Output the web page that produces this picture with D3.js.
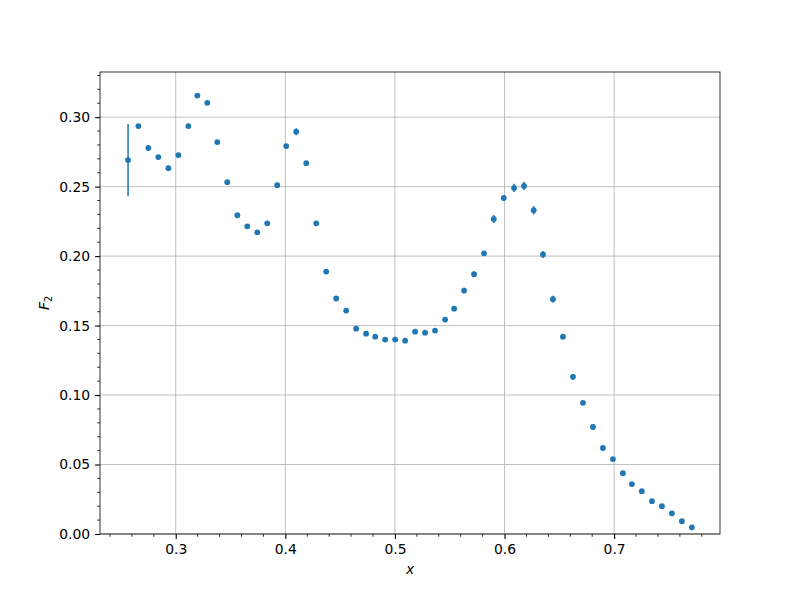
<!DOCTYPE html>
<html>
<head>
<meta charset="utf-8">
<script src="https://cdn.jsdelivr.net/npm/d3@7"></script>
<style>
  body { margin: 0; background: #fff; }
  svg { display: block; }
  text { font-family: "DejaVu Sans", sans-serif; }
</style>
</head>
<body>
<svg id="chart" width="800" height="600"></svg>
<script>
const xValues = [0.2565,0.2659,0.2750,0.2841,0.2933,0.3024,0.3115,0.3197,0.3288,0.3379,0.3470,0.3562,0.3653,0.3744,0.3835,0.3926,0.4008,0.4099,0.4191,0.4282,
  0.4373,0.4464,0.4555,0.4646,0.4737,0.4820,0.4911,0.5002,0.5093,0.5184,0.5275,0.5366,0.5458,0.5540,0.5631,0.5722,0.5813,
  0.5902,0.5993,0.6087,0.6178,0.6266,0.6351,0.6442,
  0.6533,0.6624,0.6716,0.6807,0.6898,0.6989,0.7080,0.7162,0.7253,0.7345,0.7436,0.7527,0.7618,0.7709];
const f2Values = [0.2691,0.2936,0.2778,0.2713,0.2633,0.2727,0.2936,0.3155,0.3103,0.2821,0.2532,0.2294,0.2214,0.2171,0.2236,0.2510,0.2792,0.2895,0.2669,0.2236,
  0.1889,0.1695,0.1608,0.1478,0.1442,0.1420,0.1399,0.1399,0.1391,0.1456,0.1449,0.1464,0.1543,0.1622,0.1752,0.1870,0.2019,
  0.2267,0.2419,0.2491,0.2505,0.2330,0.2012,0.1690,
  0.1420,0.1131,0.0944,0.0770,0.0619,0.0539,0.0438,0.0359,0.0308,0.0236,0.0200,0.0149,0.0092,0.0048];
const f2Errors = [0.026,0.0015,0.0015,0.0015,0.0015,0.0015,0.0015,0.0015,0.0015,0.0015,
  0.0015,0.0015,0.0015,0.0015,0.0015,0.0015,0.0015,0.0025,0.0015,0.0015,
  0.0015,0.0015,0.0015,0.0015,0.0015,0.0015,0.0015,0.0015,0.0015,0.0015,
  0.0015,0.0015,0.0015,0.0015,0.002,0.002,0.0015,0.0028,0.002,0.003,
  0.003,0.003,0.0025,0.0025,0.0015,0.002,0.0015,0.0015,0.0015,0.0015,
  0.0015,0.0015,0.0015,0.0015,0.0015,0.0015,0.0015,0.0015];
const xTicks = [0.3, 0.4, 0.5, 0.6, 0.7];
const yTicks = [0.00, 0.05, 0.10, 0.15, 0.20, 0.25, 0.30];
const xDomain = [0.2309, 0.7966];
const yDomain = [0, 0.3325];

const data = xValues.map((x, i) => ({x, y: f2Values[i], e: f2Errors[i]}));

const L = 100, R = 720, T = 72, B = 534;
const color = "#1f77b4";
const svg = d3.select("#chart");
const x = d3.scaleLinear().domain(xDomain).range([L, R]);
const y = d3.scaleLinear().domain(yDomain).range([B, T]);

// grid
const grid = svg.append("g");
grid.selectAll(".gx").data(xTicks).join("line")
  .attr("x1", d => x(d)).attr("x2", d => x(d)).attr("y1", T).attr("y2", B)
  .attr("stroke", "#b0b0b0").attr("stroke-width", 0.8);
grid.selectAll(".gy").data(yTicks).join("line")
  .attr("y1", d => y(d)).attr("y2", d => y(d)).attr("x1", L).attr("x2", R)
  .attr("stroke", "#b0b0b0").attr("stroke-width", 0.8);

// minor ticks
const xMinor = d3.range(0.24, 0.7901, 0.02).filter(v => Math.abs(v*10 - Math.round(v*10)) > 1e-6);
const yMinor = d3.range(0.01, 0.3301, 0.01).filter(v => Math.abs(v*20 - Math.round(v*20)) > 1e-6);

const xAxis = d3.axisBottom(x).tickValues(xTicks).tickFormat(d3.format(".1f")).tickSize(4.9).tickPadding(4.9);
const yAxis = d3.axisLeft(y).tickValues(yTicks).tickFormat(d3.format(".2f")).tickSize(4.9).tickPadding(4.9);

const gx = svg.append("g").attr("transform", `translate(0,${B})`).call(xAxis);
const gy = svg.append("g").attr("transform", `translate(${L},0)`).call(yAxis);
[gx, gy].forEach(g => {
  g.select(".domain").remove();
  g.selectAll(".tick line").attr("stroke", "#000").attr("stroke-width", 1.1);
  g.selectAll(".tick text").attr("fill", "#000").attr("font-size", "13.9px")
    .attr("font-family", "DejaVu Sans, sans-serif");
});

svg.append("g").selectAll("line").data(xMinor).join("line")
  .attr("x1", d => x(d)).attr("x2", d => x(d)).attr("y1", B).attr("y2", B + 2.8)
  .attr("stroke", "#000").attr("stroke-width", 0.8);
svg.append("g").selectAll("line").data(yMinor).join("line")
  .attr("y1", d => y(d)).attr("y2", d => y(d)).attr("x1", L).attr("x2", L - 2.8)
  .attr("stroke", "#000").attr("stroke-width", 0.8);

// error bars
svg.append("g").selectAll("line").data(data).join("line")
  .attr("x1", d => x(d.x)).attr("x2", d => x(d.x))
  .attr("y1", d => y(d.y - d.e)).attr("y2", d => y(d.y + d.e))
  .attr("stroke", color).attr("stroke-width", 1.5);

// points
svg.append("g").selectAll("circle").data(data).join("circle")
  .attr("cx", d => x(d.x)).attr("cy", d => y(d.y)).attr("r", 2.9)
  .attr("fill", color);

// frame
svg.append("rect").attr("x", L).attr("y", T).attr("width", R - L).attr("height", B - T)
  .attr("fill", "none").attr("stroke", "#000").attr("stroke-width", 0.8);

// axis labels
svg.append("text").attr("x", (L + R) / 2).attr("y", 574).attr("text-anchor", "middle")
  .attr("font-size", "13.9px").attr("font-style", "italic").text("x");
const yl = svg.append("text").attr("transform", `translate(49,${(T + B) / 2}) rotate(-90)`)
  .attr("text-anchor", "middle").attr("font-size", "13.9px");
yl.append("tspan").attr("font-style", "italic").text("F");
yl.append("tspan").attr("font-size", "9.7px").attr("dy", "3").text("2");
</script>
</body>
</html>
